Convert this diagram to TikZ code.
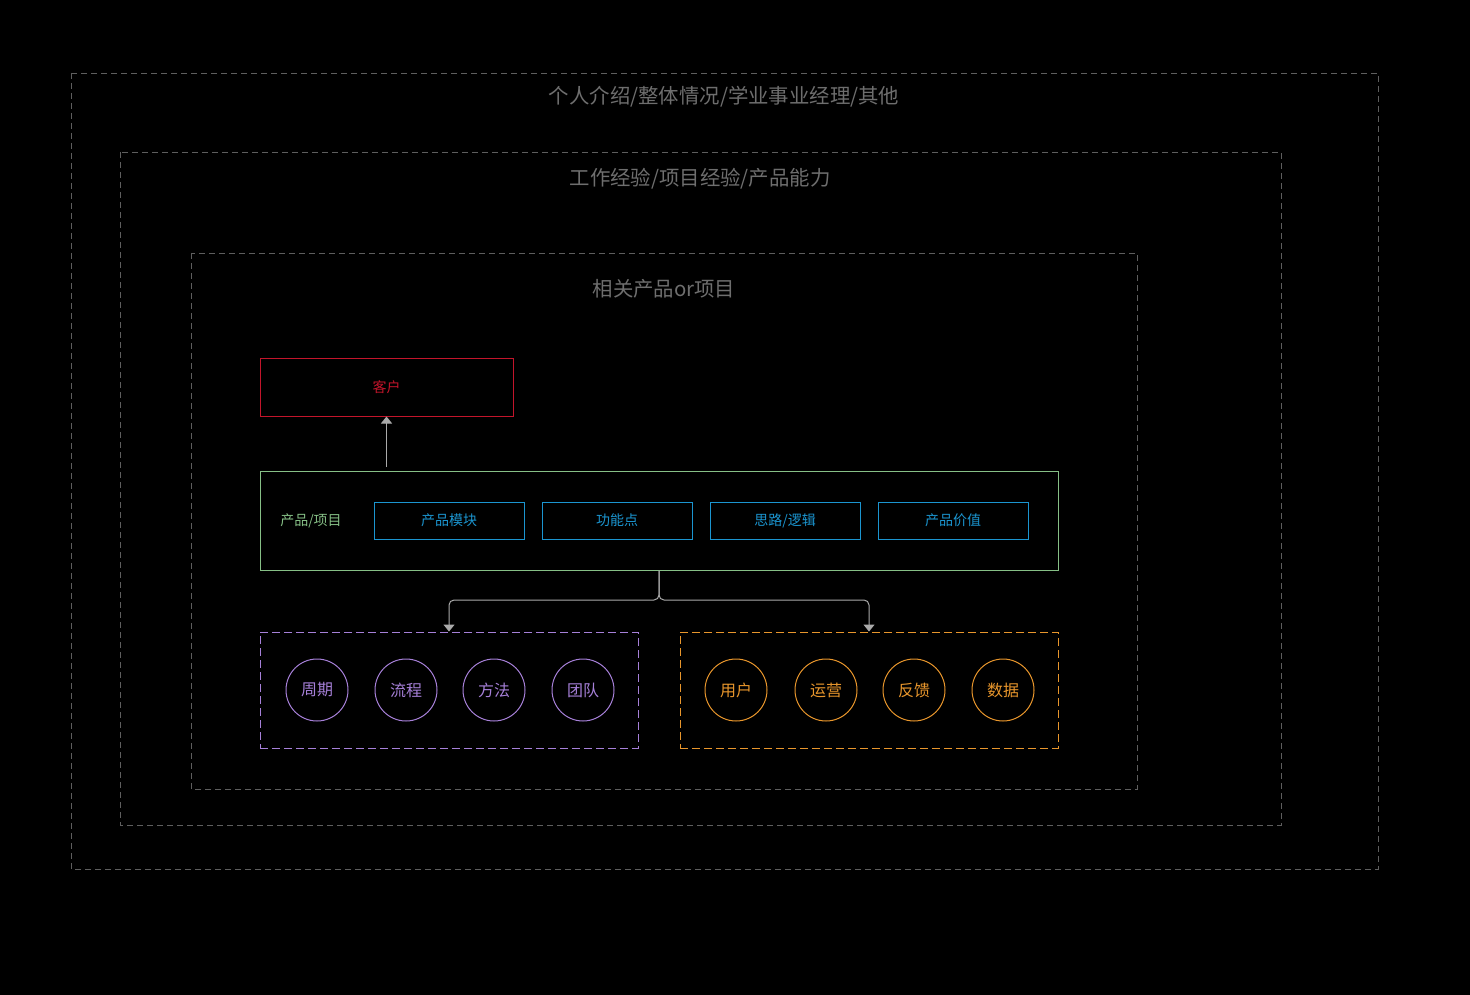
\documentclass[tikz,border=0pt]{standalone}
\usepackage{fontspec}
\setmainfont{Noto Sans CJK SC}
\usetikzlibrary{arrows.meta}
\definecolor{dgray}{HTML}{5E5E5E}
\definecolor{tgray}{HTML}{6E6E6E}
\definecolor{cred}{HTML}{C3152B}
\definecolor{cgreen}{HTML}{86BF86}
\definecolor{cblue}{HTML}{1B95D0}
\definecolor{cpurple}{HTML}{A680D8}
\definecolor{corange}{HTML}{E8962C}
\definecolor{carrow}{HTML}{AAAAAA}
\tikzset{
  frame/.style={draw=dgray, dash pattern=on 6pt off 4pt, line width=0.8pt},
  title/.style={text=tgray, font=\fontsize{20.4}{24}\selectfont, inner sep=0pt},
  redbox/.style={draw=cred, line width=1pt, minimum width=253pt, minimum height=58pt, text=cred, font=\fontsize{14}{16}\selectfont},
  greenbox/.style={draw=cgreen, line width=1pt, minimum width=798pt, minimum height=99pt},
  bluebox/.style={draw=cblue, line width=1pt, minimum width=150pt, minimum height=37pt, text=cblue, font=\fontsize{14}{16}\selectfont},
  grp/.style={draw=#1, dash pattern=on 8pt off 4pt, line width=0.9pt, minimum width=378pt, minimum height=116pt},
  circ/.style={circle, draw=#1, line width=1pt, minimum size=62pt, inner sep=0pt, text=#1, font=\fontsize{16}{18}\selectfont},
  conn/.style={draw=carrow, line width=1pt, -{Triangle[width=11pt,length=7pt]}},
}
\begin{document}
\begin{tikzpicture}[x=1pt,y=-1pt]
\fill[black] (0,0) rectangle (1470,995);
\useasboundingbox (0,0) rectangle (1470,995);
% outer frames
\draw[frame] (71,73) rectangle (1378,869);
\draw[frame] (120,152) rectangle (1281,825);
\draw[frame] (191,253) rectangle (1137,789);
\node[title] (t1) at (724,97) {个人介绍/整体情况/学业事业经理/其他};
\node[title] (t2) at (700,179) {工作经验/项目经验/产品能力};
\node[title] (t3) at (664,289) {相关产品or项目};
% customer
\node[redbox] (cust) at (386.5,387) {客户};
% product box
\node[greenbox] (prod) at (659,520.5) {};
\node[text=cgreen, font=\fontsize{14}{16}\selectfont] (plabel) at (311,521) {产品/项目};
\node[bluebox] (b1) at (449,520.5) {产品模块};
\node[bluebox] (b2) at (617,520.5) {功能点};
\node[bluebox] (b3) at (785,520.5) {思路/逻辑};
\node[bluebox] (b4) at (953,520.5) {产品价值};
% groups
\node[grp=cpurple] (pg) at (449,690) {};
\node[grp=corange] (og) at (869,690) {};
\node[circ=cpurple] (c1) at (317,690) {周期};
\node[circ=cpurple] (c2) at (406,690) {流程};
\node[circ=cpurple] (c3) at (494,690) {方法};
\node[circ=cpurple] (c4) at (583,690) {团队};
\node[circ=corange] (d1) at (736,690) {用户};
\node[circ=corange] (d2) at (826,690) {运营};
\node[circ=corange] (d3) at (914,690) {反馈};
\node[circ=corange] (d4) at (1003,690) {数据};
% connectors
\coordinate (split) at (659,600);
\coordinate (custfoot) at (386.5,467);
\draw[conn] (custfoot) -- (cust.south);
\draw[conn, rounded corners=5pt] (prod.south) -- (split) -| (pg.north);
\draw[conn, rounded corners=5pt] (prod.south) -- (split) -| (og.north);
\end{tikzpicture}
\end{document}
